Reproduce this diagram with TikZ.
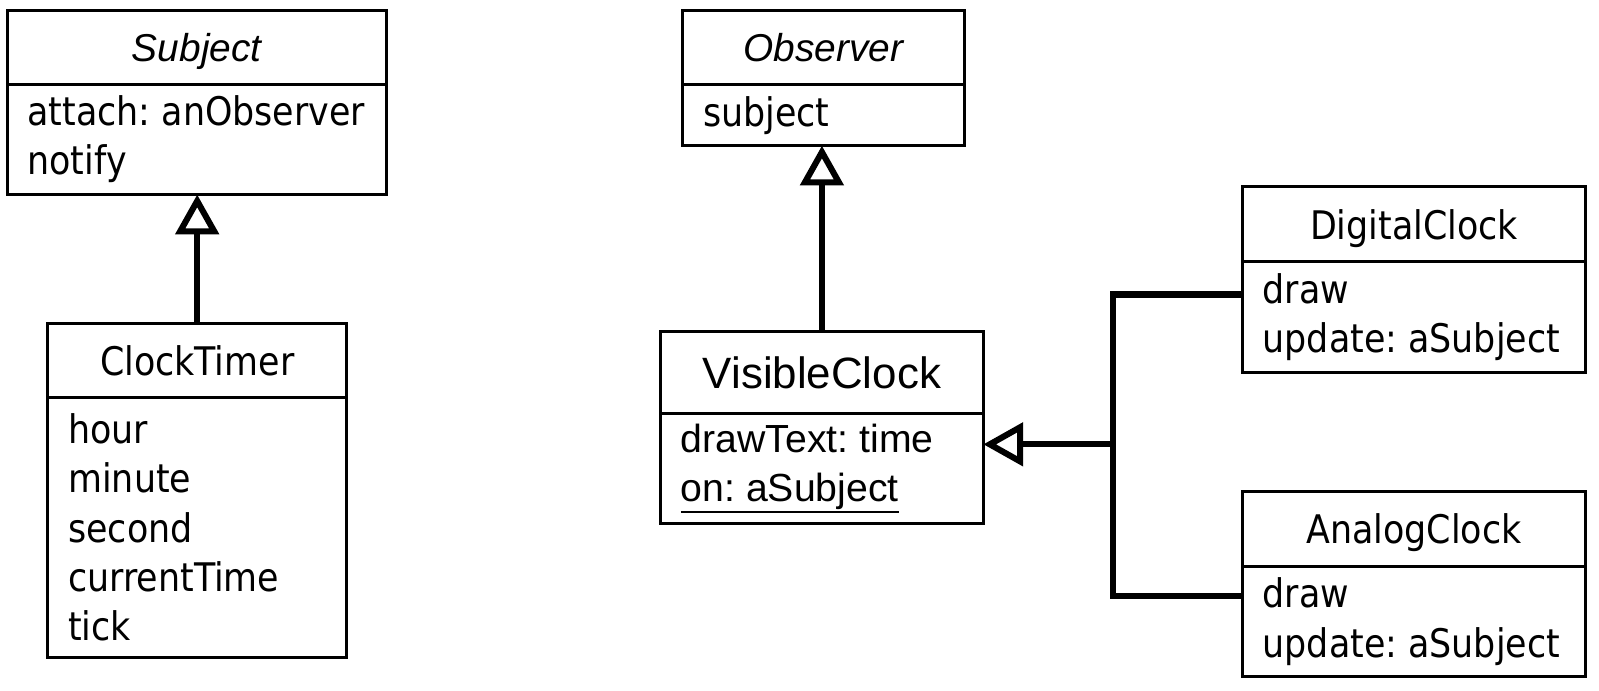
\documentclass[tikz,border=0pt]{standalone}
\usepackage{fontspec}
\setmainfont{DejaVu Sans}[FakeStretch=0.885]
\newfontfamily\arialfont{Liberation Sans}
\usetikzlibrary{arrows.meta,positioning}
\newcommand\ulined[1]{\leavevmode\vtop{\hbox{#1}\kern1pt\hrule height 1.1pt}}
\tikzset{
  box/.style={draw, line width=1.7pt, outer sep=0pt, inner sep=0pt},
  head/.style={box, text depth=0pt, minimum height=1.46cm, font=\fontsize{22}{27.4}\selectfont},
  body/.style={box, align=flush left, inner xsep=0.4cm, font=\fontsize{22}{27.4}\selectfont\frenchspacing},
  abstract/.style={font=\arialfont\itshape\fontsize{21.7}{26}\selectfont},
  gen/.style={line width=3.4pt, -{Triangle[open,length=0.78cm,width=0.84cm]}},
  link/.style={line width=3.4pt},
}
\begin{document}
\begin{tikzpicture}[x=0.02cm,y=-0.02cm]
\useasboundingbox (0,0) rectangle (1569,678);
\node[head,abstract,minimum width=7.44cm] (sh) at (193,46.5) {Subject};
\node[body,text width=6.64cm,minimum height=2.16cm,below=0pt of sh] (sb) {attach: anObserver\\notify};
\node[head,minimum width=5.86cm] (cth) at (193.5,353.5) {ClockTimer};
\node[body,text width=5.06cm,minimum height=5.10cm,below=0pt of cth] (ctb) {hour\\minute\\second\\currentTime\\tick};
\node[head,abstract,minimum width=5.52cm] (oh) at (808,46.5) {Observer};
\node[body,text width=4.72cm,minimum height=1.20cm,below=0pt of oh] (ob) {subject};
\node[head,minimum width=6.34cm,minimum height=1.62cm,font=\arialfont\fontsize{24.5}{29}\selectfont] (vch) at (806.5,365.5) {VisibleClock};
\node[body,text width=5.54cm,minimum height=2.16cm,font=\arialfont\fontsize{21.9}{27}\selectfont\frenchspacing,below=0pt of vch] (vcb) {drawText: time\\\ulined{on: aSubject}};
\node[head,minimum width=6.74cm,minimum height=1.48cm] (dch) at (1387.5,220) {DigitalClock};
\node[body,text width=5.94cm,minimum height=2.18cm,below=0pt of dch] (dcb) {draw\\update: aSubject};
\node[head,minimum width=6.74cm,minimum height=1.48cm] (ach) at (1387.5,519) {AnalogClock};
\node[body,text width=5.94cm,minimum height=2.16cm,below=0pt of ach] (acb) {draw\\update: aSubject};
\coordinate (jd) at (1092,289);
\coordinate (jm) at (1092,436);
\coordinate (ja) at (1092,585);
\draw[gen] (cth.north) -- (cth.north |- sb.south);
\draw[gen] (vch.north) -- (vch.north |- ob.south);
\draw[link] (dcb.west |- jd) -- (jd) -- (ja) -- (acb.west |- ja);
\draw[gen] (jm) -- (vcb.east |- jm);
\end{tikzpicture}
\end{document}
